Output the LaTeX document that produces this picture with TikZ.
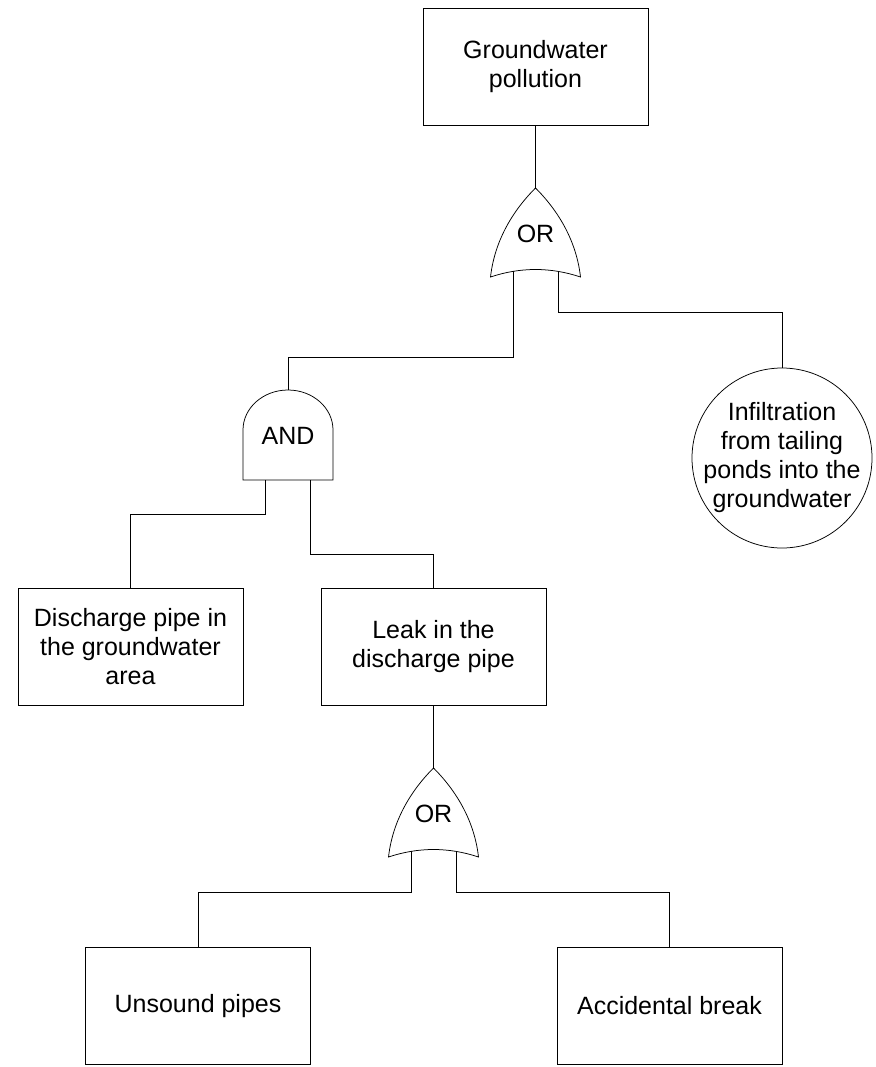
\documentclass[tikz,border=0pt]{standalone}
\usepackage{fontspec}
\setmainfont{Liberation Sans}
\begin{document}
\begin{tikzpicture}[x=1pt,y=-1pt,line width=0.75pt,
  lbl/.style={font=\fontsize{25}{29}\selectfont},
  event/.style={draw, lbl, minimum width=225pt, minimum height=117pt, align=center, inner sep=0pt},
  basic/.style={draw, circle, minimum size=180pt, inner sep=0pt},
  wire/.style={draw},
  orgate/.pic={
    \draw (0,0) .. controls (-15,15) and (-40,45) .. (-45,89)
      .. controls (-15,79) and (15,79) .. (45,89)
      .. controls (40,45) and (15,15) .. (0,0) -- cycle;
    \coordinate (-top) at (0,0);
    \coordinate (-L) at (-22.5,83.4);
    \coordinate (-R) at (22.5,83.4);
    \node[lbl, inner sep=0pt] (-lbl) at (0,46) {OR};
  },
  andgate/.pic={
    \draw (-45,90) -- (-45,40) arc[start angle=180, end angle=360, x radius=45, y radius=40] -- (45,90) -- cycle;
    \coordinate (-top) at (0,0);
    \coordinate (-L) at (-22.5,90);
    \coordinate (-R) at (22.5,90);
    \node[lbl, inner sep=0pt] (-lbl) at (0,46) {AND};
  }]
\useasboundingbox (0,0) rectangle (875,1067);

\node[event] (top) at (535.5,66.5) {Groundwater\\pollution};
\node[event] (dpa) at (130.5,646.5) {Discharge pipe in\\the groundwater\\area};
\node[event] (leak) at (433.5,646.5) {Leak in the\\discharge pipe};
\node[event] (uns) at (198,1006) {Unsound pipes};
\node[event] (acc) at (669.5,1006) {Accidental break};
\node[basic] (inf) at (782,458) {};
\node[lbl, align=center, inner sep=0pt] (inftext) at (inf.center) {Infiltration\\from tailing\\ponds into the\\groundwater};

\pic (or1) at (535.5,188) {orgate};
\pic (and1) at (288,390) {andgate};
\pic (or2) at (433.5,768) {orgate};

\coordinate (y1) at (0,357);
\coordinate (y2) at (0,312);
\coordinate (y3) at (0,514);
\coordinate (y4) at (0,554);
\coordinate (y5) at (0,892);

\draw[wire] (top) -- (or1-top);
\draw[wire] (or1-L) -- (or1-L |- y1) -| (and1-top);
\draw[wire] (or1-R) -- (or1-R |- y2) -| (inf);
\draw[wire] (and1-L) -- (and1-L |- y3) -| (dpa);
\draw[wire] (and1-R) -- (and1-R |- y4) -| (leak);
\draw[wire] (leak) -- (or2-top);
\draw[wire] (or2-L) -- (or2-L |- y5) -| (uns);
\draw[wire] (or2-R) -- (or2-R |- y5) -| (acc);
\end{tikzpicture}
\end{document}
